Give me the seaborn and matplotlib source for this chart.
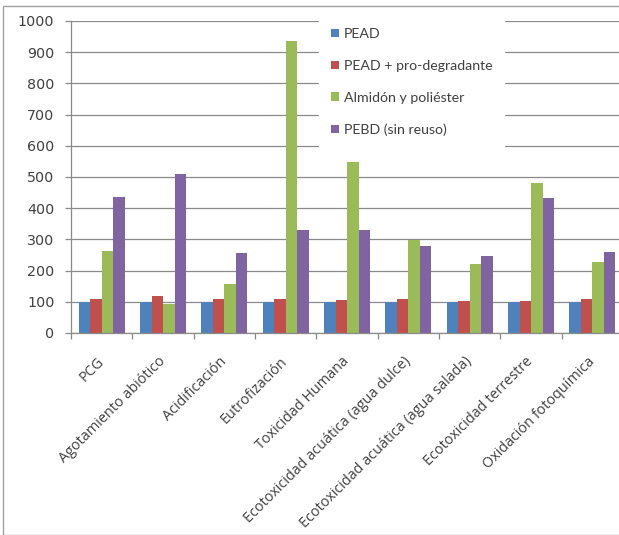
import matplotlib
matplotlib.use("Agg")
import matplotlib.pyplot as plt
import seaborn as sns
import pandas as pd
import numpy as np
from matplotlib.patches import Rectangle

categories = ["PCG", "Agotamiento abiótico", "Acidificación", "Eutrofización",
              "Toxicidad Humana", "Ecotoxicidad acuática (agua dulce)",
              "Ecotoxicidad acuática (agua salada)", "Ecotoxicidad terrestre",
              "Oxidación fotoquímica"]
series_names = ["PEAD", "PEAD + pro-degradante", "Almidón y poliéster", "PEBD (sin reuso)"]
pead = [100, 100, 100, 100, 100, 100, 100, 100, 100]
pead_pro = [110, 119, 108, 108, 107, 108, 104, 104, 110]
almidon = [264, 93, 157, 937, 547, 299, 221, 481, 228]
pebd = [436, 510, 256, 330, 330, 278, 246, 434, 261]
yticks = [0, 100, 200, 300, 400, 500, 600, 700, 800, 900, 1000]
colors = ["#4F81BD", "#C0504D", "#9BBB59", "#8064A2"]

rows = []
for s, vals in zip(series_names, [pead, pead_pro, almidon, pebd]):
    for c, v in zip(categories, vals):
        rows.append({"cat": c, "serie": s, "val": v})
df = pd.DataFrame(rows)

sns.set_theme(style="white")
plt.rcParams['font.family'] = ['Lato', 'DejaVu Sans']

fig = plt.figure(figsize=(6.19, 5.35), dpi=100)
ax = fig.add_axes([71/619, 1-333/535, 552/619, 312/535])

sns.barplot(data=df, x="cat", y="val", hue="serie", order=categories,
            hue_order=series_names, palette=colors, width=0.75,
            saturation=1, ax=ax, edgecolor="none", linewidth=0)

ax.set_xlim(-0.5, 8.5)
ax.set_ylim(0, 1000)
ax.set_yticks(yticks)
ax.set_yticklabels([str(t) for t in yticks], fontsize=10.3, color="#404040",
                   family="DejaVu Sans")
ax.yaxis.grid(True, color="#8a8a8a", linewidth=0.9)
ax.set_axisbelow(True)
ax.set_xlabel("")
ax.set_ylabel("")

ax.set_xticks(range(len(categories)))
ax.set_xticklabels(categories, rotation=45, ha="right", va="center",
                   rotation_mode="anchor", fontsize=10.4, color="#404040",
                   family=["Open Sans", "DejaVu Sans"])
ax.tick_params(axis="x", which="major", length=0, pad=19)
ax.set_xticks(np.arange(-0.5, 9.0, 1.0), minor=True)
ax.tick_params(axis="x", which="minor", length=4, color="#8a8a8a", width=0.9, bottom=True)
ax.tick_params(axis="y", which="major", length=4, color="#8a8a8a", width=0.9, left=True, pad=8)

for side in ["top", "right"]:
    ax.spines[side].set_visible(False)
for side in ["left", "bottom"]:
    ax.spines[side].set_color("#8a8a8a")
    ax.spines[side].set_linewidth(0.9)

handles, labels = ax.get_legend_handles_labels()
leg = ax.legend(handles, labels, loc="upper left",
                bbox_to_anchor=(319/619, 1-16/535), bbox_transform=fig.transFigure,
                frameon=True, facecolor="white", edgecolor="white", framealpha=1,
                fontsize=10.2, labelspacing=1.4, handlelength=0.55, handleheight=0.55,
                handletextpad=0.35, borderpad=0.85, borderaxespad=0)
for t in leg.get_texts():
    t.set_color("#404040")

fig.patches.append(Rectangle((3/619, 0), 1, 1-6/535, transform=fig.transFigure,
                             fill=False, edgecolor="#a0a0a0", linewidth=1.0))

fig.savefig("out.png", dpi=100)
